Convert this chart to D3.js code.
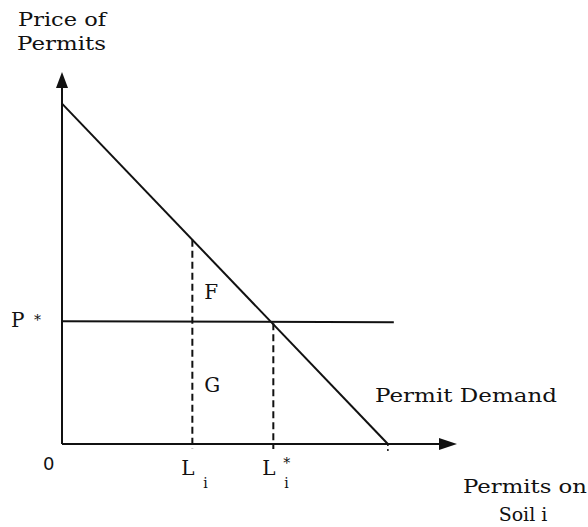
<!DOCTYPE html>
<html>
<head>
<meta charset="utf-8">
<script src="https://cdn.jsdelivr.net/npm/d3@7"></script>
<style>
  body { margin: 0; background: #fff; }
  svg text { font-family: "DejaVu Serif", serif; fill: #111; }
</style>
</head>
<body>
<div id="chart"></div>
<script>
// permit demand diagram (quantity and price in arbitrary units 0..10)
var demand = [{q: 0, p: 9.15}, {q: 8.25, p: 0}];
var pStar = 3.3;
var pStarEnd = 8.4;
var levels = [
  {label: "L", star: false, q: 3.3, from: "demand"},
  {label: "L", star: true, q: 5.35, from: "pstar"}
];
var areas = [{name: "F", q: 3.6, p: 3.9}, {name: "G", q: 3.6, p: 1.4}];

var width = 588, height = 527;

var svg = d3.select("#chart")
  .append("svg")
    .attr("width", width)
    .attr("height", height);

var x = d3.scaleLinear().domain([0, 10]).range([62, 457]);
var y = d3.scaleLinear().domain([0, 10]).range([444, 72]);

var demandAt = function(q) {
  return demand[0].p + (demand[1].p - demand[0].p) * q / demand[1].q;
};

// axes
svg.append("line")
  .attr("x1", x(0)).attr("x2", x(0))
  .attr("y1", y(0)).attr("y2", y(9.6))
  .attr("stroke", "#111").attr("stroke-width", 2);
svg.append("line")
  .attr("x1", x(0)).attr("x2", x(9.6))
  .attr("y1", y(0)).attr("y2", y(0))
  .attr("stroke", "#111").attr("stroke-width", 2.2);

// arrow heads
svg.append("path")
  .attr("d", "M" + x(0) + "," + y(10) + " L" + (x(0) - 6) + "," + (y(10) + 16) +
             " L" + (x(0) + 6) + "," + (y(10) + 16) + " Z")
  .attr("fill", "#111");
svg.append("path")
  .attr("d", "M" + x(10) + "," + y(0) + " L" + (x(10) - 18) + "," + (y(0) - 6) +
             " L" + (x(10) - 18) + "," + (y(0) + 6) + " Z")
  .attr("fill", "#111");

// small tick at the demand intercept
svg.append("line")
  .attr("x1", x(demand[1].q)).attr("x2", x(demand[1].q))
  .attr("y1", y(0)).attr("y2", y(0) + 7)
  .attr("stroke", "#111").attr("stroke-width", 1.5)
  .attr("stroke-dasharray", "2,3");

// demand line
svg.append("line")
  .attr("x1", x(demand[0].q)).attr("y1", y(demand[0].p))
  .attr("x2", x(demand[1].q)).attr("y2", y(demand[1].p))
  .attr("stroke", "#111").attr("stroke-width", 2);

// price line P*
svg.append("line")
  .attr("x1", x(0)).attr("x2", x(pStarEnd))
  .attr("y1", y(pStar)).attr("y2", y(pStar) + 1)
  .attr("stroke", "#111").attr("stroke-width", 2);

// dashed verticals
svg.selectAll("line.drop")
  .data(levels)
  .enter()
  .append("line")
    .attr("class", "drop")
    .attr("x1", d => x(d.q)).attr("x2", d => x(d.q))
    .attr("y1", d => d.from == "demand" ? y(demandAt(d.q)) : y(pStar) + 2)
    .attr("y2", y(0) + 5)
    .attr("stroke", "#111").attr("stroke-width", 2)
    .attr("stroke-dasharray", "7,4");

// labels under the axis
var lab = svg.selectAll("g.lab")
  .data(levels)
  .enter()
  .append("g")
    .attr("class", "lab");
lab.append("text")
  .attr("x", d => x(d.q) - 11)
  .attr("y", 475)
  .style("font-size", "20px")
  .text(d => d.label);
lab.append("text")
  .attr("x", d => x(d.q) + 11)
  .attr("y", 488)
  .style("font-size", "14px")
  .text("i");
lab.filter(d => d.star).append("text")
  .attr("x", d => x(d.q) + 10)
  .attr("y", 468)
  .style("font-size", "14px")
  .text("*");

svg.append("text")
  .attr("x", x(0) - 19).attr("y", 470)
  .style("font-size", "18px")
  .style("font-family", "DejaVu Sans")
  .text("0");

// P*
svg.append("text")
  .attr("x", 11).attr("y", y(pStar) + 6)
  .style("font-size", "20px")
  .text("P");
svg.append("text")
  .attr("x", 34).attr("y", y(pStar) + 4)
  .style("font-size", "14px")
  .text("*");

// F and G
svg.selectAll("text.area")
  .data(areas)
  .enter()
  .append("text")
    .attr("class", "area")
    .attr("x", d => x(d.q))
    .attr("y", d => y(d.p))
    .style("font-size", "20px")
    .text(d => d.name);

// titles
var titles = [
  {t: "Price of", x: 18, y: 26, w: 88},
  {t: "Permits", x: 17, y: 50, w: 89},
  {t: "Permit Demand", x: 375, y: 402, w: 182},
  {t: "Permits on", x: 463, y: 493, w: 124}
];
svg.selectAll("text.title")
  .data(titles)
  .enter()
  .append("text")
    .attr("class", "title")
    .attr("x", d => d.x)
    .attr("y", d => d.y)
    .attr("textLength", d => d.w)
    .attr("lengthAdjust", "spacingAndGlyphs")
    .style("font-size", "19px")
    .text(d => d.t);

svg.append("text")
  .attr("x", 523).attr("y", 521)
  .attr("text-anchor", "middle")
  .style("font-size", "19px")
  .text("Soil i");
</script>
</body>
</html>
